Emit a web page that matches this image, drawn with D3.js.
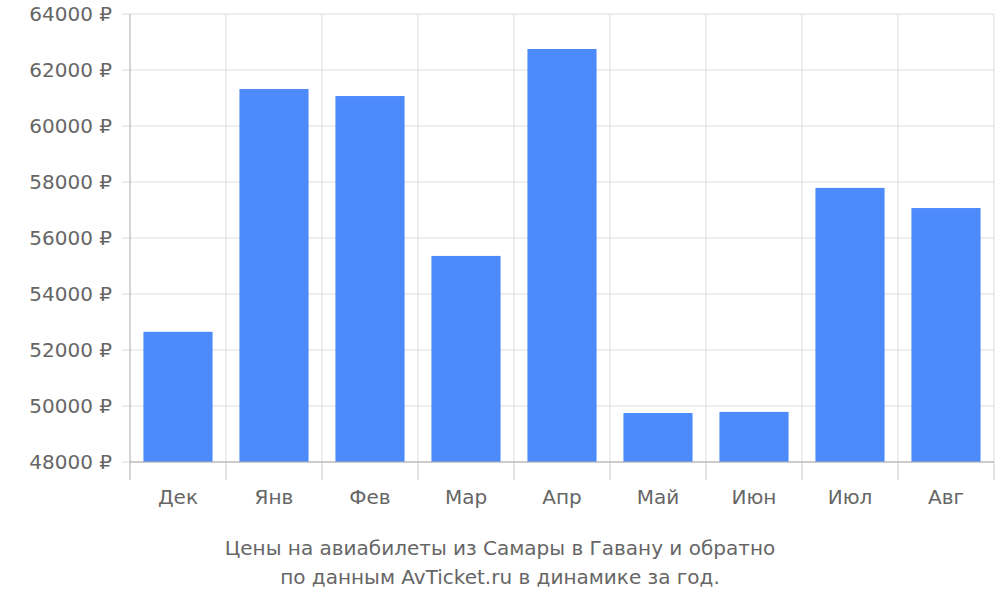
<!DOCTYPE html><html><head><meta charset="utf-8"><script src="https://cdn.jsdelivr.net/npm/d3@7"></script>
<style>body{margin:0}text{font-family:"DejaVu Sans";fill:#666}</style></head><body><svg id="c" width="1000" height="600"></svg><script>
const categories=["Дек","Янв","Фев","Мар","Апр","Май","Июн","Июл","Авг"];
const values=[52650,61320,61070,55360,62750,49750,49790,57790,57070];
const yTicks=[48000,50000,52000,54000,56000,58000,60000,62000,64000];
const titleLines=["Цены на авиабилеты из Самары в Гавану и обратно","по данным AvTicket.ru в динамике за год."];
const svg=d3.select("#c");
const L=130,R=994,T=14,B=462;
const x=d3.scaleBand().domain(categories).range([L,R]).paddingInner(0.28).paddingOuter(0.14);
const y=d3.scaleLinear().domain([48000,64000]).range([B,T]);
const step=x.step();
const g=svg.append("g");
yTicks.forEach(t=>{g.append("line").attr("x1",L-8).attr("x2",R).attr("y1",y(t)).attr("y2",y(t)).attr("stroke","#ddd");
g.append("text").attr("x",L-18).attr("y",y(t)).attr("dy","0.35em").attr("text-anchor","end").attr("font-size",20).text(t+" ₽");});
for(let i=1;i<=categories.length;i++){const xx=L+i*step;
g.append("line").attr("x1",xx).attr("x2",xx).attr("y1",T).attr("y2",B).attr("stroke","#ddd");
g.append("line").attr("x1",xx).attr("x2",xx).attr("y1",B).attr("y2",480).attr("stroke","#ccc");}
g.selectAll("rect").data(values).join("rect").attr("x",(d,i)=>x(categories[i])).attr("width",x.bandwidth())
.attr("y",d=>y(d)).attr("height",d=>B-y(d)).attr("fill","#4d8afc");
g.append("line").attr("x1",L).attr("x2",L).attr("y1",T).attr("y2",480).attr("stroke","#aaa");
g.append("line").attr("x1",L).attr("x2",R).attr("y1",B).attr("y2",B).attr("stroke","#aaa");
categories.forEach(c=>g.append("text").attr("x",x(c)+x.bandwidth()/2).attr("y",504).attr("text-anchor","middle").attr("font-size",20).text(c));
titleLines.forEach((t,i)=>g.append("text").attr("x",500).attr("y",555+i*29).attr("text-anchor","middle").attr("font-size",20).text(t));
</script></body></html>
